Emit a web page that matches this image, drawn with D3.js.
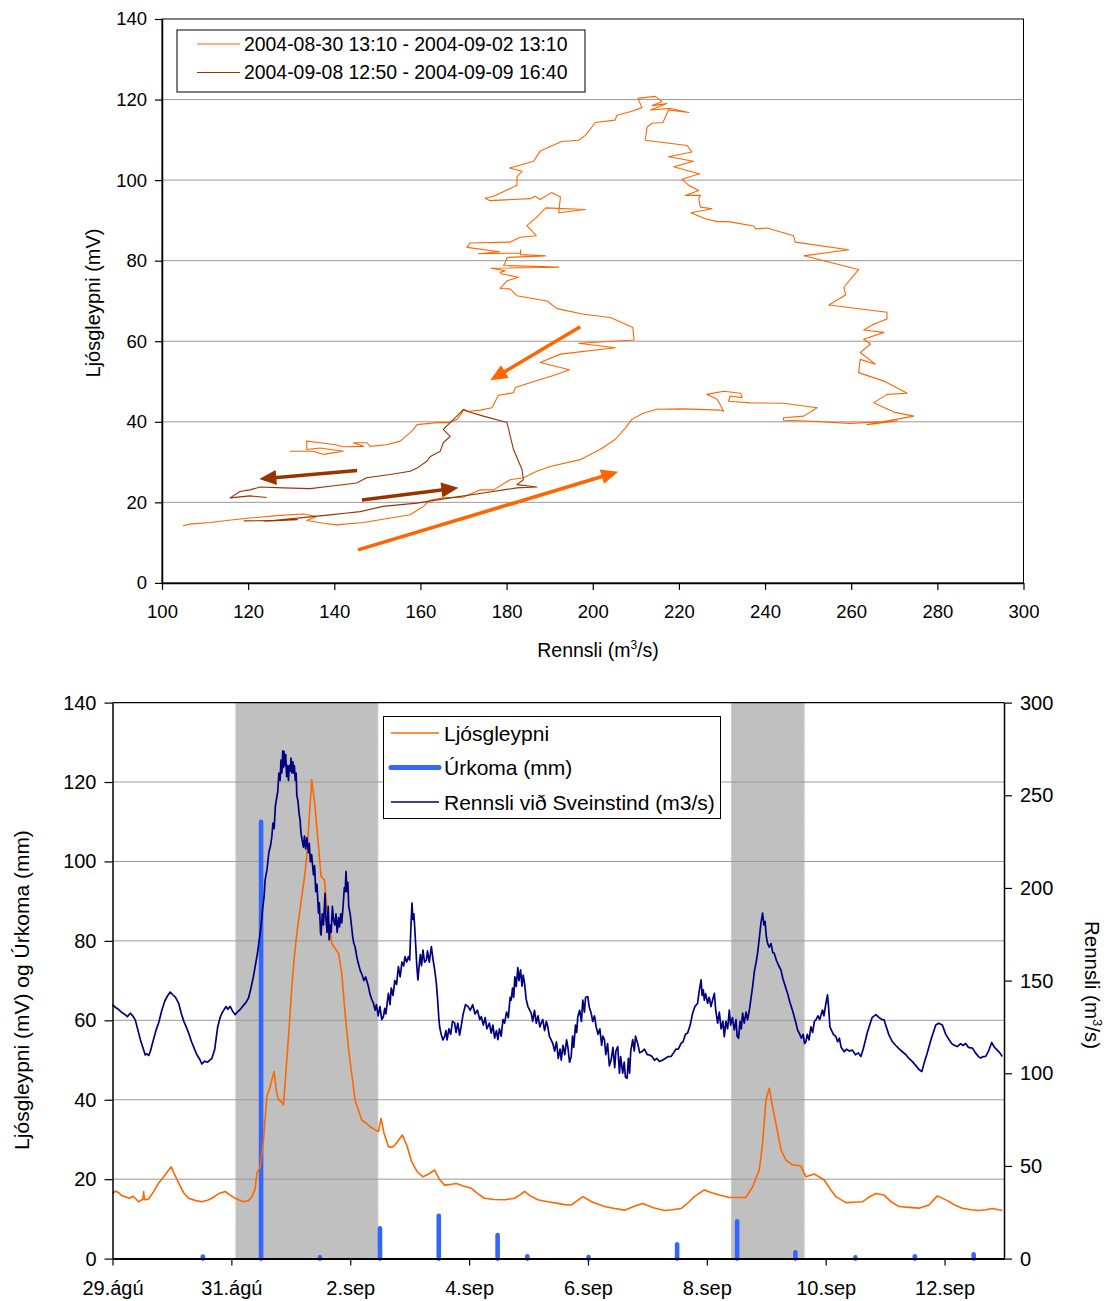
<!DOCTYPE html>
<html>
<head>
<meta charset="utf-8">
<script src="https://cdn.jsdelivr.net/npm/d3@7"></script>
<style>
  body { margin: 0; background: #fff; }
  svg { display: block; font-family: "Liberation Sans", Arial, sans-serif; }
</style>
</head>
<body>
<svg id="chart" width="1109" height="1301"></svg>
<script>
// ---------- Hysteresis plot: discharge (m3/s) vs. turbidity (mV) ----------
const loopLabels = ["2004-08-30 13:10 - 2004-09-02 13:10", "2004-09-08 12:50 - 2004-09-09 16:40"];

// Event 1, [discharge, turbidity]
const loop1 = [[104.9,14.2],[106.5,14.6],[111.2,15.0],[115.0,15.5],[120.4,16.1],[126.6,16.7],[132.8,17.1],[135.9,16.5],[133.6,15.5],[137.5,14.8],[140.6,14.4],[146.8,15.0],[153.0,16.1],[157.6,16.9],[160.7,19.0],[162.3,20.6],[165.3,21.1],[170.0,21.3],[173.9,23.1],[177.0,23.1],[180.8,25.6],[183.9,26.1],[187.0,27.7],[190.1,28.9],[197.1,30.6],[201.7,33.1],[205.2,35.6],[207.6,38.5],[209.1,40.6],[211.8,42.2],[214.9,43.1],[221.1,43.2],[229.6,42.9],[230.4,42.6],[228.9,45.6],[226.5,46.8],[230.4,47.6],[234.3,47.1],[234.7,46.0],[231.9,46.4],[231.5,45.1],[236.6,44.7],[244.3,44.6],[252.1,43.5],[249.0,41.4],[244.3,41.0],[244.3,40.4],[249.8,40.2],[259.8,39.6],[270.7,40.2],[263.7,39.3],[274.5,41.4],[269.9,42.4],[265.2,44.7],[268.3,46.8],[273.0,47.1],[267.6,50.1],[261.7,52.2],[262.1,55.5],[265.6,54.3],[262.1,57.2],[264.5,59.3],[262.9,60.5],[267.6,62.2],[262.9,62.8],[265.2,64.2],[268.3,65.5],[268.3,67.2],[254.8,69.0],[258.7,71.5],[258.3,73.4],[261.7,77.8],[249.0,81.2],[259.4,82.7],[247.0,84.6],[246.6,86.2],[240.5,88.1],[237.8,87.9],[237.4,88.6],[231.5,89.7],[228.9,89.7],[226.1,90.4],[222.8,91.9],[227.7,92.9],[225.0,93.3],[224.6,95.4],[225.0,96.2],[221.5,96.2],[224.6,97.4],[222.3,98.7],[220.7,100.2],[224.8,101.6],[221.9,102.4],[218.8,103.3],[223.4,104.7],[217.6,105.8],[223.0,107.0],[221.9,108.6],[212.2,109.9],[212.6,113.2],[213.8,114.1],[216.3,114.3],[217.6,117.4],[222.3,116.8],[218.0,117.8],[213.4,117.4],[217.2,119.0],[213.8,118.5],[216.1,119.5],[214.5,120.8],[210.5,120.3],[211.4,118.0],[209.1,117.1],[205.6,116.1],[205.2,114.9],[200.6,114.3],[198.3,111.1],[196.7,109.9],[192.8,109.6],[187.8,107.2],[186.3,104.7],[180.7,103.0],[183.6,102.2],[182.4,100.8],[182.4,98.7],[177.0,96.0],[175.0,95.5],[176.2,94.9],[185.5,95.4],[186.6,96.0],[187.8,95.2],[190.4,96.9],[192.5,95.8],[192.1,91.9],[198.3,92.7],[189.1,93.1],[187.0,90.8],[184.7,88.7],[186.9,86.2],[183.2,85.8],[180.7,84.6],[171.5,84.4],[170.8,83.3],[178.4,82.2],[173.5,81.7],[183.2,81.9],[183.3,82.7],[183.2,81.5],[189.0,81.2],[180.1,80.8],[179.7,79.6],[179.3,78.8],[192.1,78.4],[176.4,78.1],[179.7,77.5],[178.5,77.1],[178.9,76.7],[182.8,75.9],[180.1,75.0],[178.5,73.1],[180.8,73.0],[182.4,71.3],[189.4,70.0],[191.7,68.1],[197.9,66.7],[204.1,65.9],[209.3,63.4],[209.6,60.3],[196.7,59.5],[205.2,58.4],[192.5,56.8],[187.8,54.7],[194.6,52.9],[190.9,51.5],[187.8,50.5],[182.0,48.5],[181.6,47.2],[178.1,46.6],[176.6,43.5],[173.9,42.9],[171.2,42.6],[170.0,42.9],[168.5,40.6],[166.9,39.8],[163.8,39.8],[159.2,39.3],[158.4,38.1],[157.6,37.3],[155.3,35.2],[152.2,34.3],[148.3,33.9],[147.6,34.8],[144.4,34.8],[146.8,33.9],[142.1,33.8],[140.2,34.3],[136.7,34.8],[133.6,35.2],[133.6,33.1],[136.7,33.5],[142.1,32.7],[137.5,31.9],[135.1,32.7],[129.7,32.7]];

// Event 2, [discharge, turbidity]
const loop2 = [[119.0,15.4],[125.1,15.5],[131.4,15.7],[123.9,15.3],[134.4,16.4],[139.0,16.9],[142.5,17.3],[146.0,17.7],[151.3,19.0],[159.2,19.8],[166.9,21.1],[174.6,22.3],[182.4,23.6],[187.0,23.8],[182.4,24.4],[183.9,25.6],[183.6,28.1],[181.6,33.1],[180.1,39.8],[174.6,41.4],[170.8,42.6],[170.0,43.1],[169.2,42.2],[166.9,39.8],[165.3,38.1],[166.9,36.4],[165.3,34.8],[164.6,32.7],[162.3,31.4],[161.5,30.2],[159.2,28.5],[157.6,27.7],[153.0,26.9],[147.5,26.1],[145.2,24.8],[139.0,24.0],[134.4,23.4],[128.2,23.6],[122.8,23.8],[120.4,23.1],[118.1,22.7],[115.8,21.1],[120.4,21.6],[124.3,21.2]];

// Direction arrows: [from, to, event]
const loopArrows = [
  [[145.5, 8.2], [205.9, 27.6], 0],
  [[197.1, 63.6], [176.2, 50.3], 0],
  [[145.3, 27.9], [122.6, 25.8], 1],
  [[146.4, 20.6], [168.8, 23.6], 1]
];

const topXTicks = [100, 120, 140, 160, 180, 200, 220, 240, 260, 280, 300];
const topYTicks = [0, 20, 40, 60, 80, 100, 120, 140];

// ---------- Time series: 29 Aug - 13 Sep 2004 (days since 29 Aug 00:00) ----------
const seriesLabels = ["Ljósgleypni", "Úrkoma (mm)", "Rennsli við Sveinstind (m3/s)"];

// Turbidity (mV)
const turbidity = [[0.000,16.4],[0.05,17.0],[0.104,16.6],[0.15,15.9],[0.215,15.6],[0.28,15.2],[0.35,15.7],[0.440,14.3],[0.513,15.0],[0.524,16.9],[0.538,14.8],[0.608,15.0],[0.69,16.8],[0.776,19.0],[0.88,21.0],[0.988,23.1],[1.05,21.0],[1.113,19.0],[1.20,16.5],[1.281,15.2],[1.40,14.6],[1.504,14.3],[1.60,14.7],[1.672,15.2],[1.78,16.3],[1.896,16.9],[1.98,16.0],[2.064,15.2],[2.205,14.3],[2.29,14.6],[2.345,15.6],[2.40,17.5],[2.429,21.5],[2.484,23.0],[2.541,29.9],[2.597,40.8],[2.652,43.3],[2.719,47.1],[2.76,42.0],[2.793,40.0],[2.84,39.5],[2.877,38.7],[2.933,50.0],[2.98,60.0],[3.017,68.5],[3.06,76.0],[3.101,81.9],[3.185,91.2],[3.23,96.0],[3.269,101.2],[3.308,110.5],[3.353,120.6],[3.408,113.8],[3.466,103.8],[3.509,96.2],[3.566,95.4],[3.605,88.6],[3.689,79.4],[3.75,78.0],[3.802,76.9],[3.857,71.9],[3.913,61.8],[3.980,51.7],[4.081,40.0],[4.193,34.9],[4.26,34.2],[4.333,33.2],[4.40,32.6],[4.474,32.0],[4.518,35.3],[4.57,31.5],[4.642,28.2],[4.70,28.0],[4.753,28.6],[4.877,31.1],[4.950,28.6],[5.034,24.4],[5.12,22.0],[5.224,20.6],[5.32,21.3],[5.420,22.3],[5.50,20.0],[5.588,18.5],[5.70,18.7],[5.785,18.9],[5.90,18.3],[6.037,17.7],[6.15,16.3],[6.261,15.2],[6.42,14.9],[6.597,14.8],[6.765,15.2],[6.85,16.0],[6.933,16.9],[7.03,15.8],[7.156,14.8],[7.32,14.3],[7.492,13.9],[7.60,13.6],[7.718,13.5],[7.82,14.6],[7.913,15.6],[8.08,14.2],[8.277,13.1],[8.45,12.6],[8.613,12.2],[8.78,13.2],[8.921,13.9],[9.10,12.8],[9.286,12.1],[9.42,12.3],[9.566,12.6],[9.68,14.0],[9.790,15.6],[9.958,17.3],[10.08,16.6],[10.210,16.0],[10.378,15.4],[10.52,15.4],[10.659,15.4],[10.770,18.1],[10.882,22.3],[10.938,29.0],[10.995,40.0],[11.050,42.9],[11.106,38.3],[11.173,33.2],[11.247,27.4],[11.331,24.8],[11.442,23.6],[11.51,23.5],[11.583,23.3],[11.667,20.6],[11.807,21.3],[11.975,19.8],[12.08,17.4],[12.171,15.6],[12.339,14.1],[12.48,14.2],[12.618,14.3],[12.73,15.5],[12.844,16.4],[12.983,16.0],[13.10,14.3],[13.235,13.1],[13.40,12.9],[13.571,12.7],[13.739,13.5],[13.879,15.8],[14.047,14.6],[14.17,13.5],[14.299,12.7],[14.44,12.3],[14.580,12.1],[14.70,12.3],[14.803,12.6],[14.971,12.1]];

// Discharge at Sveinstindur (m3/s)
const discharge = [[0.000,137.0],[0.05,135.5],[0.10,134.5],[0.15,133.0],[0.215,131.6],[0.25,130.5],[0.300,132.4],[0.34,131],[0.383,128.8],[0.43,123],[0.47,118],[0.51,114],[0.551,109.9],[0.58,110.5],[0.61,109.6],[0.635,111.6],[0.68,117],[0.73,123],[0.776,127.1],[0.83,134],[0.88,139],[0.93,142],[0.971,143.8],[1.01,142.5],[1.06,141],[1.113,137.8],[1.16,132],[1.20,128],[1.24,125],[1.281,121.7],[1.33,117],[1.38,113],[1.42,110],[1.46,108],[1.504,105.0],[1.55,106.5],[1.60,106],[1.672,108.0],[1.72,113],[1.77,125],[1.81,130],[1.840,132.4],[1.88,134.5],[1.91,136],[1.94,134.5],[1.980,136.1],[2.02,133.5],[2.064,131.6],[2.10,133],[2.15,134.5],[2.20,136.5],[2.24,138],[2.289,140.6],[2.33,146],[2.37,152],[2.400,157.5],[2.44,165],[2.484,175.5],[2.51,183],[2.53,190],[2.55,195],[2.568,204.4],[2.60,210],[2.63,219],[2.66,223],[2.681,227.8],[2.70,235],[2.72,232],[2.74,244],[2.765,249.2],[2.78,252],[2.80,262],[2.82,258],[2.835,269],[2.85,262],[2.865,274],[2.875,265],[2.887,273.6],[2.90,266],[2.915,272],[2.93,260],[2.945,266],[2.961,258],[2.975,266],[2.99,263],[3.005,270],[3.02,262],[3.035,268],[3.045,262],[3.06,266],[3.075,258],[3.09,262],[3.101,250],[3.12,247],[3.14,240],[3.156,236.8],[3.17,230],[3.19,226],[3.213,222],[3.23,228],[3.25,221],[3.27,227],[3.297,219],[3.31,224],[3.33,214],[3.35,218],[3.382,207],[3.40,212],[3.42,198],[3.44,202],[3.466,186.4],[3.48,192],[3.50,176],[3.509,174.6],[3.53,186],[3.55,180],[3.576,197.1],[3.59,184],[3.61,176],[3.63,190],[3.645,172],[3.661,180],[3.68,176],[3.70,190],[3.718,183],[3.74,180],[3.76,186],[3.78,176],[3.802,184],[3.82,179],[3.84,186],[3.857,181.1],[3.88,190],[3.90,200],[3.915,198],[3.929,208.9],[3.945,198],[3.96,203],[3.975,190],[3.997,186.4],[4.02,180],[4.04,174],[4.06,170],[4.081,168.4],[4.11,163],[4.13,160],[4.165,155.8],[4.20,153],[4.23,150],[4.26,152],[4.306,146.8],[4.33,143],[4.36,140],[4.390,137.8],[4.42,134],[4.44,137],[4.47,131],[4.50,136],[4.53,129],[4.558,130.5],[4.58,135],[4.60,132],[4.642,143.1],[4.67,137],[4.69,146],[4.72,142],[4.75,150],[4.78,148],[4.810,157.5],[4.84,152],[4.87,160],[4.90,158],[4.921,162.9],[4.95,160],[4.98,163],[5.000,161.1],[5.02,178],[5.039,191.8],[5.055,183],[5.07,186],[5.084,179.1],[5.10,170],[5.12,158],[5.139,150.4],[5.16,158],[5.18,164],[5.20,158],[5.224,166.5],[5.25,160],[5.281,161.1],[5.30,166],[5.33,160],[5.365,168.4],[5.39,162],[5.42,156],[5.449,148.5],[5.47,140],[5.49,130],[5.504,125.1],[5.53,121],[5.56,118],[5.588,119.8],[5.61,123],[5.63,118],[5.66,124],[5.69,121],[5.72,128],[5.756,127.1],[5.78,122],[5.81,127],[5.840,120.6],[5.87,126],[5.90,132],[5.94,137],[5.980,136.1],[6.02,134],[6.06,137],[6.10,132],[6.14,134],[6.18,129],[6.205,130.5],[6.24,126],[6.27,130],[6.30,124],[6.34,127],[6.373,121.7],[6.40,126],[6.43,119],[6.46,123],[6.484,118.1],[6.51,124],[6.54,120],[6.57,129],[6.597,127.1],[6.63,133],[6.66,130],[6.69,141],[6.709,139.5],[6.73,146],[6.75,141],[6.77,152],[6.793,146.8],[6.82,157],[6.84,150],[6.866,155.8],[6.89,147],[6.91,153],[6.933,148.5],[6.96,140],[6.99,136],[7.02,134],[7.045,132.4],[7.07,128],[7.10,134],[7.13,127],[7.16,131],[7.19,125],[7.213,127.1],[7.24,129],[7.27,123],[7.30,128],[7.324,125.1],[7.35,120],[7.38,118],[7.408,116.1],[7.44,112],[7.47,117],[7.50,108],[7.53,113],[7.550,107.1],[7.58,115],[7.61,110],[7.64,118],[7.661,114.4],[7.69,106],[7.718,109.1],[7.74,120],[7.76,114],[7.79,126],[7.81,122],[7.829,130.5],[7.86,134],[7.89,128],[7.913,139.5],[7.94,133],[7.96,141],[7.997,141.4],[8.02,136],[8.054,132.4],[8.08,128],[8.11,131],[8.138,125.1],[8.17,121],[8.20,124],[8.23,115],[8.25,120],[8.277,118.1],[8.30,110],[8.33,116],[8.36,104],[8.390,107.1],[8.42,114],[8.45,103],[8.47,112],[8.501,114.4],[8.53,100],[8.55,109],[8.585,100.1],[8.61,106],[8.63,98],[8.659,97.3],[8.68,108],[8.70,100],[8.72,112],[8.753,118.1],[8.78,112],[8.80,120],[8.837,116.1],[8.87,111],[8.904,111.6],[8.95,113],[9.00,110],[9.034,109.9],[9.08,109],[9.12,107],[9.16,108],[9.202,106.3],[9.25,107],[9.30,108],[9.35,109],[9.398,109.1],[9.44,111],[9.48,113],[9.52,113],[9.566,116.1],[9.60,117],[9.64,121],[9.677,121.7],[9.72,126],[9.761,132.4],[9.80,136],[9.845,137.8],[9.87,144],[9.903,150.4],[9.92,142],[9.94,145],[9.958,139.5],[9.98,143],[10.013,137.8],[10.04,141],[10.07,136],[10.10,140],[10.126,143.1],[10.15,134],[10.182,127.1],[10.21,133],[10.24,124],[10.27,128],[10.294,119.8],[10.32,128],[10.35,124],[10.378,134.1],[10.40,126],[10.43,130],[10.462,123.4],[10.49,129],[10.51,120],[10.534,118.9],[10.56,128],[10.58,124],[10.602,132.4],[10.63,127],[10.66,133],[10.686,128.8],[10.72,135],[10.75,142],[10.770,146.8],[10.80,155],[10.83,160],[10.854,164.8],[10.88,172],[10.91,181],[10.938,186.4],[10.96,180],[10.98,182],[11.00,174],[11.022,170.1],[11.05,168],[11.08,170],[11.11,165],[11.134,164.8],[11.17,161],[11.21,158],[11.247,155.8],[11.28,151],[11.32,147],[11.358,143.1],[11.40,138],[11.44,134],[11.471,130.5],[11.50,127],[11.53,123],[11.555,121.7],[11.59,119],[11.62,121],[11.645,116],[11.667,117.0],[11.69,121],[11.72,118],[11.751,125.1],[11.78,122],[11.81,128],[11.835,128.8],[11.87,131],[11.90,129],[11.946,134.1],[11.97,131],[12.00,137],[12.030,142.3],[12.05,135],[12.071,125.1],[12.10,123],[12.13,121],[12.171,119.8],[12.20,117],[12.23,119],[12.26,114],[12.311,111.6],[12.35,113],[12.40,112],[12.450,112.5],[12.50,110],[12.55,111],[12.592,109.1],[12.63,113],[12.67,118],[12.70,122],[12.731,125.1],[12.78,130],[12.844,131.6],[12.90,130],[12.95,129],[12.983,128.8],[13.02,125],[13.06,121],[13.123,117.0],[13.18,115],[13.24,113],[13.291,111.6],[13.35,110],[13.40,108],[13.459,106.3],[13.52,104],[13.57,102],[13.617,100.9],[13.66,106],[13.70,110],[13.739,114.4],[13.78,119],[13.82,123],[13.852,126.0],[13.90,127],[13.963,126.0],[14.02,121],[14.076,118.1],[14.12,116],[14.17,115],[14.215,114.4],[14.27,116],[14.31,115],[14.356,116.1],[14.40,114],[14.467,113.6],[14.52,111],[14.57,109],[14.608,108.2],[14.65,109],[14.692,109.1],[14.74,112],[14.793,116.6],[14.84,114],[14.887,112.5],[14.93,111],[14.971,109.1]];

// Daily precipitation (mm)
const precipitation = [[1.52,0.5],[2.50,110],[3.49,0.3],[4.50,7.6],[5.49,10.8],[6.48,5.9],[6.98,0.6],[8.01,0.4],[9.50,3.6],[10.51,9.4],[11.49,1.6],[12.50,0.3],[13.50,0.6],[14.49,1.1]];

// Event periods (shaded)
const eventPeriods = [[2.07, 4.47], [10.41, 11.645]];

const leftTicks = [0, 20, 40, 60, 80, 100, 120, 140];
const rightTicks = [0, 50, 100, 150, 200, 250, 300];
const dateTickDays = [0, 2, 4, 6, 8, 10, 12, 14];
const dateTickLabels = ["29.ágú", "31.ágú", "2.sep", "4.sep", "6.sep", "8.sep", "10.sep", "12.sep"];

// ---------- Colours ----------
const ORANGE = "#ff6600";
const BROWN = "#993300";
const NAVY = "#000080";
const BLUE = "#3366ff";
const GRID = "#9a9a9a";

const svg = d3.select("#chart");

function styleAxis(g, size) {
  g.attr("font-size", null).attr("font-family", null);
  g.select(".domain").attr("stroke", "#000").attr("stroke-width", 1.5);
  g.selectAll(".tick line").attr("stroke", "#000").attr("stroke-width", 1.2);
  g.selectAll(".tick text").attr("fill", "#000").style("font-size", size + "px");
}

// ================= Top chart =================
const P1 = { left: 162, right: 1023.5, top: 19, bottom: 582.9 };
const xQ = d3.scaleLinear().domain([100, 300]).range([P1.left, P1.right]);
const yT = d3.scaleLinear().domain([0, 140]).range([P1.bottom, P1.top]);

const g1 = svg.append("g");

g1.append("g").selectAll("line")
  .data(topYTicks.filter(v => v > 0 && v < 140))
  .join("line")
  .attr("x1", P1.left).attr("x2", P1.right)
  .attr("y1", d => yT(d)).attr("y2", d => yT(d))
  .attr("stroke", GRID).attr("stroke-width", 1);

g1.append("rect")
  .attr("x", P1.left).attr("y", P1.top)
  .attr("width", P1.right - P1.left).attr("height", P1.bottom - P1.top)
  .attr("fill", "none").attr("stroke", "#000").attr("stroke-width", 1);

const line1 = d3.line().x(d => xQ(d[0])).y(d => yT(d[1]));

g1.append("path").datum(loop1)
  .attr("d", line1).attr("fill", "none")
  .attr("stroke", ORANGE).attr("stroke-width", 1.1).attr("stroke-linejoin", "round");
g1.append("path").datum(loop2)
  .attr("d", line1).attr("fill", "none")
  .attr("stroke", BROWN).attr("stroke-width", 1.1).attr("stroke-linejoin", "round");

// arrows
const arrowColors = [ORANGE, BROWN];
loopArrows.forEach(([a, b, k]) => {
  const x0 = xQ(a[0]), y0 = yT(a[1]), x1 = xQ(b[0]), y1 = yT(b[1]);
  const ang = Math.atan2(y1 - y0, x1 - x0);
  const hl = 17, hw = 7.5;
  const bx = x1 - hl * Math.cos(ang), by = y1 - hl * Math.sin(ang);
  g1.append("line")
    .attr("x1", x0).attr("y1", y0).attr("x2", bx + 2 * Math.cos(ang)).attr("y2", by + 2 * Math.sin(ang))
    .attr("stroke", arrowColors[k]).attr("stroke-width", 3.6);
  const px = -Math.sin(ang), py = Math.cos(ang);
  g1.append("path")
    .attr("d", `M${x1},${y1}L${bx + hw * px},${by + hw * py}L${bx - hw * px},${by - hw * py}Z`)
    .attr("fill", arrowColors[k]);
});

const ax1 = g1.append("g").attr("transform", `translate(0,${P1.bottom})`)
  .call(d3.axisBottom(xQ).tickValues(topXTicks).tickSize(7).tickSizeOuter(0).tickPadding(15));
styleAxis(ax1, 18.5);
const ay1 = g1.append("g").attr("transform", `translate(${P1.left},0)`)
  .call(d3.axisLeft(yT).tickValues(topYTicks).tickSize(7).tickSizeOuter(0).tickPadding(8));
styleAxis(ay1, 18.5);

// axis titles
g1.append("text")
  .attr("transform", "translate(93,303) rotate(-90)")
  .attr("text-anchor", "middle").attr("dy", "0.35em")
  .style("font-size", "20px").text("Ljósgleypni (mV)");

const xt1 = g1.append("text")
  .attr("x", 598).attr("y", 657).attr("text-anchor", "middle")
  .style("font-size", "19.5px");
xt1.append("tspan").text("Rennsli (m");
xt1.append("tspan").attr("dy", -8).style("font-size", "12px").text("3");
xt1.append("tspan").attr("dy", 8).text("/s)");

// legend
const L1 = g1.append("g");
L1.append("rect").attr("x", 177).attr("y", 30).attr("width", 408).attr("height", 62)
  .attr("fill", "#fff").attr("stroke", "#000").attr("stroke-width", 1);
loopLabels.forEach((lab, i) => {
  const yy = 44 + i * 28.5;
  L1.append("line").attr("x1", 197).attr("x2", 240).attr("y1", yy).attr("y2", yy)
    .attr("stroke", arrowColors[i]).attr("stroke-width", 1.2);
  L1.append("text").attr("x", 244).attr("y", yy).attr("dy", "0.36em")
    .style("font-size", "19.4px").text(lab);
});

// ================= Bottom chart =================
const P2 = { left: 112.5, right: 1004, top: 702.6, bottom: 1258.6 };
const t0 = Date.UTC(2004, 7, 29);
const toDate = d => new Date(t0 + d * 864e5);
const xD = d3.scaleUtc().domain([toDate(0), toDate(15)]).range([P2.left, P2.right]);
const yL = d3.scaleLinear().domain([0, 140]).range([P2.bottom, P2.top]);
const yR = d3.scaleLinear().domain([0, 300]).range([P2.bottom, P2.top]);

const g2 = svg.append("g");

// shaded event periods
g2.append("g").selectAll("rect").data(eventPeriods).join("rect")
  .attr("x", d => xD(toDate(d[0]))).attr("y", P2.top)
  .attr("width", d => xD(toDate(d[1])) - xD(toDate(d[0])))
  .attr("height", P2.bottom - P2.top)
  .attr("fill", "#c0c0c0");
g2.append("g").selectAll("line").data(eventPeriods).join("line")
  .attr("x1", d => xD(toDate(d[1]))).attr("x2", d => xD(toDate(d[1])))
  .attr("y1", P2.top).attr("y2", P2.bottom)
  .attr("stroke", "#e4e4e4").attr("stroke-width", 1.2).attr("stroke-dasharray", "1.5,1.5");

// gridlines
g2.append("g").selectAll("line")
  .data(leftTicks.filter(v => v > 0 && v < 140))
  .join("line")
  .attr("x1", P2.left).attr("x2", P2.right)
  .attr("y1", d => yL(d)).attr("y2", d => yL(d))
  .attr("stroke", GRID).attr("stroke-width", 1);

// top border
g2.append("line").attr("x1", P2.left).attr("x2", P2.right)
  .attr("y1", P2.top).attr("y2", P2.top).attr("stroke", "#000").attr("stroke-width", 1.3);

// precipitation bars
g2.append("g").selectAll("line").data(precipitation).join("line")
  .attr("x1", d => xD(toDate(d[0]))).attr("x2", d => xD(toDate(d[0])))
  .attr("y1", yL(0)).attr("y2", d => yL(d[1]))
  .attr("stroke", BLUE).attr("stroke-width", 4.6).attr("stroke-linecap", "round");

// turbidity
g2.append("path").datum(turbidity)
  .attr("d", d3.line().x(d => xD(toDate(d[0]))).y(d => yL(d[1])))
  .attr("fill", "none").attr("stroke", ORANGE).attr("stroke-width", 1.6)
  .attr("stroke-linejoin", "round");

// discharge (right axis)
g2.append("path").datum(discharge)
  .attr("d", d3.line().x(d => xD(toDate(d[0]))).y(d => yR(d[1])))
  .attr("fill", "none").attr("stroke", NAVY).attr("stroke-width", 1.7)
  .attr("stroke-linejoin", "round");

// axes
const ax2 = g2.append("g").attr("transform", `translate(0,${P2.bottom})`)
  .call(d3.axisBottom(xD).tickValues(dateTickDays.map(toDate)).tickSize(7).tickSizeOuter(0).tickPadding(15)
    .tickFormat((d, i) => dateTickLabels[i]));
styleAxis(ax2, 20);
ax2.select(".domain").attr("stroke-width", 2);

const ay2 = g2.append("g").attr("transform", `translate(${P2.left},0)`)
  .call(d3.axisLeft(yL).tickValues(leftTicks).tickSize(8).tickSizeOuter(0).tickPadding(8));
styleAxis(ay2, 20);

const ayR = g2.append("g").attr("transform", `translate(${P2.right},0)`)
  .call(d3.axisRight(yR).tickValues(rightTicks).tickSize(8).tickSizeOuter(0).tickPadding(8));
styleAxis(ayR, 20);

// axis titles
g2.append("text")
  .attr("transform", "translate(22,990) rotate(-90)")
  .attr("text-anchor", "middle").attr("dy", "0.35em")
  .style("font-size", "21px").text("Ljósgleypni (mV) og Úrkoma (mm)");

const rt = g2.append("text")
  .attr("transform", "translate(1092,985) rotate(90)")
  .attr("text-anchor", "middle").attr("dy", "0.35em")
  .style("font-size", "20.5px");
rt.append("tspan").text("Rennsli (m");
rt.append("tspan").attr("dy", -8).style("font-size", "13px").text("3");
rt.append("tspan").attr("dy", 8).text("/s)");

// legend
const L2 = g2.append("g");
L2.append("rect").attr("x", 383.5).attr("y", 716.5).attr("width", 337).attr("height", 102)
  .attr("fill", "#fff").attr("stroke", "#000").attr("stroke-width", 1);
const legendStyles = [
  { color: ORANGE, width: 1.6, cap: "butt" },
  { color: BLUE, width: 5, cap: "round" },
  { color: NAVY, width: 1.7, cap: "butt" }
];
seriesLabels.forEach((lab, i) => {
  const yy = 733 + i * 34.5;
  L2.append("line").attr("x1", 391).attr("x2", 439).attr("y1", yy).attr("y2", yy)
    .attr("stroke", legendStyles[i].color).attr("stroke-width", legendStyles[i].width)
    .attr("stroke-linecap", legendStyles[i].cap);
  L2.append("text").attr("x", 444).attr("y", yy).attr("dy", "0.36em")
    .style("font-size", "21px").text(lab);
});
</script>
</body>
</html>
